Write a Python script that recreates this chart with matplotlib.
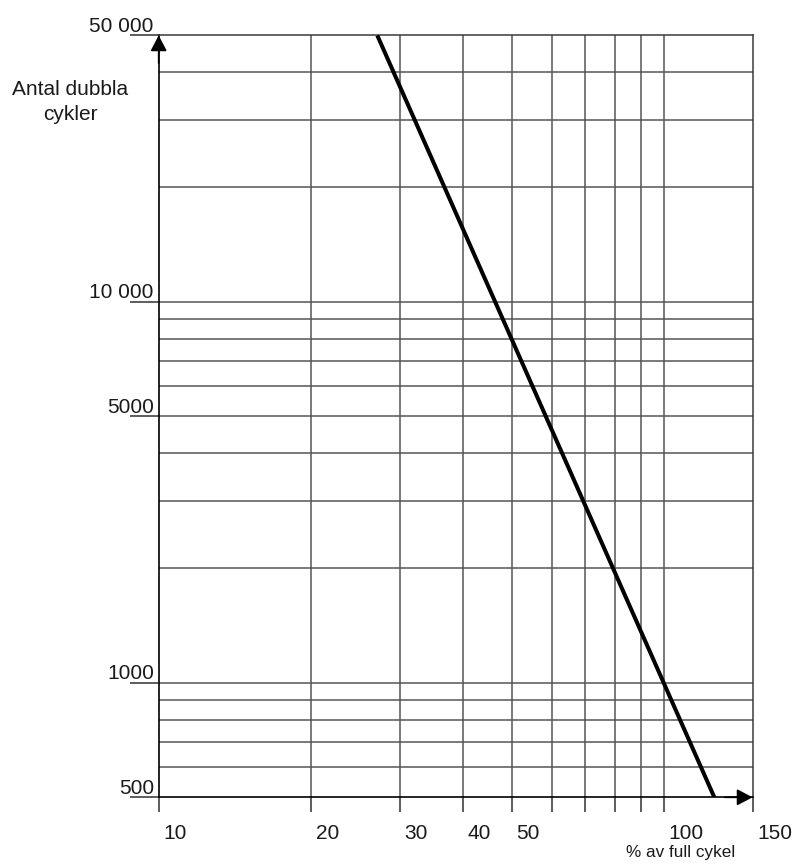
import matplotlib
matplotlib.use("Agg")
import matplotlib.pyplot as plt
from matplotlib.ticker import NullLocator, FixedLocator, NullFormatter

plt.rcParams["font.family"] = ["Liberation Sans", "DejaVu Sans"]

# Fatigue curve: number of double cycles vs. percent of full cycle
cycle_pct = [27.1, 126.0]
double_cycles = [50000, 500]

# Axis ticks and grid
x_ticks = [10, 20, 30, 40, 50, 60, 70, 80, 90, 100, 150]
x_labels = {10: "10", 20: "20", 30: "30", 40: "40", 50: "50", 100: "100", 150: "150"}
x_grid = [20, 30, 40, 50, 60, 70, 80, 90, 100]
y_ticks = [500, 1000, 5000, 10000, 50000]
y_labels = ["500", "1000", "5000", "10 000", "50 000"]
y_grid = [600, 700, 800, 900, 1000, 2000, 3000, 4000, 5000,
          6000, 7000, 8000, 9000, 10000, 20000, 30000, 40000]

fig = plt.figure(figsize=(7.93, 8.64), dpi=100)
ax = fig.add_axes([0.2001, 0.0772, 0.949 - 0.2001, 0.959 - 0.0772])
ax.set_xscale("log")
ax.set_yscale("log")
ax.set_xlim(10, 150)
ax.set_ylim(500, 50000)

grid_color = "#555555"
for gx in x_grid:
    ax.axvline(gx, color=grid_color, lw=1.1, zorder=1)
for gy in y_grid:
    ax.axhline(gy, color=grid_color, lw=1.1, zorder=1)

ax.plot(cycle_pct, double_cycles, color="black", lw=2.9,
        solid_capstyle="butt", zorder=3)

# spines
for side in ("left", "bottom"):
    ax.spines[side].set_color("black")
    ax.spines[side].set_linewidth(1.2)
for side in ("top", "right"):
    ax.spines[side].set_color("#3a3a3a")
    ax.spines[side].set_linewidth(1.1)

# ticks
ax.xaxis.set_major_locator(FixedLocator(x_ticks))
ax.xaxis.set_minor_locator(NullLocator())
ax.xaxis.set_major_formatter(NullFormatter())
ax.xaxis.set_minor_formatter(NullFormatter())
ax.yaxis.set_major_locator(FixedLocator(y_ticks))
ax.yaxis.set_minor_locator(NullLocator())
ax.yaxis.set_major_formatter(NullFormatter())
ax.yaxis.set_minor_formatter(NullFormatter())
ax.tick_params(axis="x", direction="out", length=11, width=1.1, color="#303030")
ax.tick_params(axis="y", direction="out", length=21, width=1.1, color="#303030")

# y labels sit on top of their tick lines
for val, lab in zip(y_ticks, y_labels):
    ax.annotate(lab, xy=(0, val), xycoords=("axes fraction", "data"),
                xytext=(-3.5, 2.5), textcoords="offset points",
                ha="right", va="baseline", fontsize=15, color="#1a1a1a")

# x labels to the right of their ticks
for val, lab in x_labels.items():
    ax.annotate(lab, xy=(val, 0), xycoords=("data", "axes fraction"),
                xytext=(3.5, -26), textcoords="offset points",
                ha="left", va="center", fontsize=15, color="#1a1a1a")

# axis arrows
arrow_kw = dict(arrowstyle="-|>,head_length=0.95,head_width=0.5",
                color="black", lw=1.2, shrinkA=0, shrinkB=0, mutation_scale=10)
ax.annotate("", xy=(0, 1), xycoords="axes fraction",
            xytext=(0, -20), textcoords="offset points", arrowprops=arrow_kw,
            annotation_clip=False)
ax.annotate("", xy=(1, 0), xycoords="axes fraction",
            xytext=(-20, 0), textcoords="offset points", arrowprops=arrow_kw,
            annotation_clip=False)

fig.text(70 / 793, 1 - 102 / 864, "Antal dubbla\ncykler", ha="center",
         va="center", multialignment="center", fontsize=15, linespacing=1.35,
         color="#1a1a1a")
fig.text(681 / 793, 1 - 853 / 864, "% av full cykel", ha="center",
         va="center", fontsize=12.3, color="#1a1a1a")

fig.savefig("out.png", dpi=100)
